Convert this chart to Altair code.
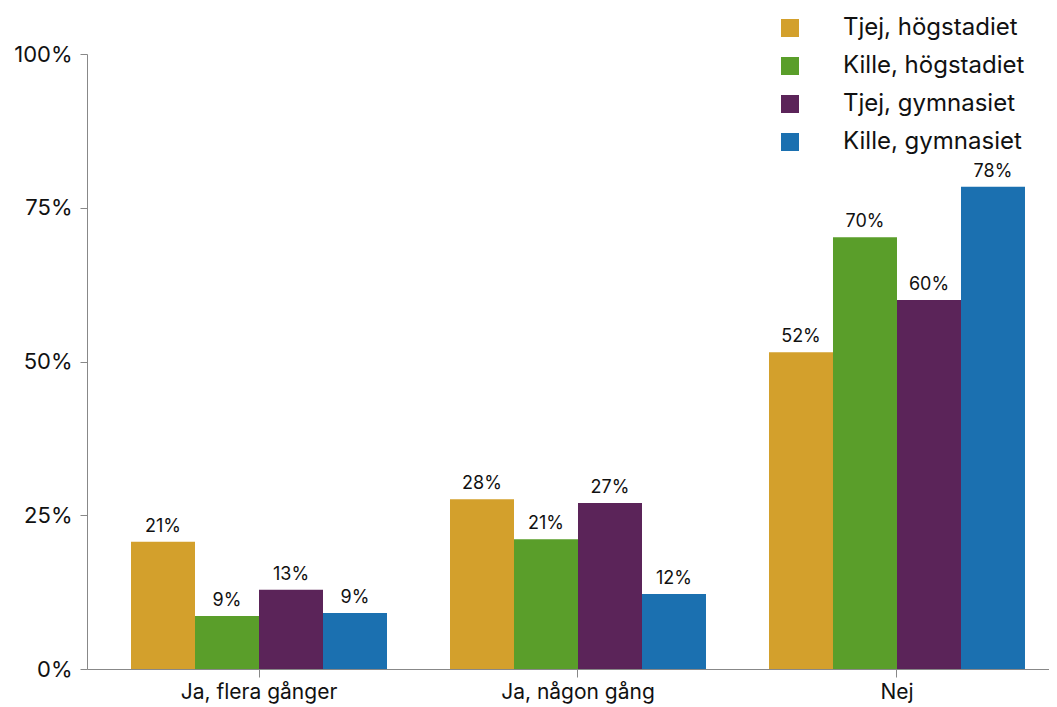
import altair as alt
import pandas as pd

categories = ["Ja, flera gånger", "Ja, någon gång", "Nej"]
series = ["Tjej, högstadiet", "Kille, högstadiet", "Tjej, gymnasiet", "Kille, gymnasiet"]
colors = ["#D3A02C", "#5A9E2A", "#5B2459", "#1B70B0"]
# values per series, in category order
tjej_hog = [0.207, 0.276, 0.515]
kille_hog = [0.086, 0.211, 0.702]
tjej_gym = [0.129, 0.270, 0.600]
kille_gym = [0.091, 0.122, 0.784]

rows = []
for s, vals in zip(series, [tjej_hog, kille_hog, tjej_gym, kille_gym]):
    for c, v in zip(categories, vals):
        rows.append({"kategori": c, "grupp": s, "andel": v})
df = pd.DataFrame(rows)

FONT = "Inter"

base = alt.Chart(df).encode(
    x=alt.X("kategori:N", sort=categories, title=None,
            scale=alt.Scale(paddingInner=0.1975, paddingOuter=0.1066, align=0.647),
            axis=alt.Axis(labelAngle=0, labelFontSize=21, labelFont=FONT, labelColor="#111",
                          domainColor="#888", tickColor="#888", tickSize=8,
                          labelPadding=4, grid=False)),
    xOffset=alt.XOffset("grupp:N", sort=series),
    y=alt.Y("andel:Q", title=None,
            scale=alt.Scale(domain=[0, 1], nice=False),
            axis=alt.Axis(format=".0%", values=[0, 0.25, 0.5, 0.75, 1],
                          labelFontSize=22, labelFont=FONT, labelColor="#111",
                          domainColor="#888", tickColor="#888", tickSize=7,
                          labelPadding=8, grid=False)),
)

bars = base.mark_bar().encode(
    color=alt.Color("grupp:N", sort=series,
                    scale=alt.Scale(domain=series, range=colors),
                    legend=alt.Legend(title=None, orient="none", legendX=691, legendY=-38,
                                      symbolType="square", symbolSize=324,
                                      symbolStrokeWidth=0, symbolOpacity=1,
                                      labelFontSize=24, labelFont=FONT, labelColor="#111",
                                      labelOffset=41, rowPadding=14, padding=0,
                                      labelLimit=400))
)

labels = base.mark_text(dy=-10, baseline="alphabetic", fontSize=18, font=FONT,
                        color="#111").encode(
    text=alt.Text("andel:Q", format=".0%")
)

chart = (bars + labels).properties(
    width=962, height=615,
    autosize=alt.AutoSizeParams(type="none"),
    padding={"left": 79, "top": 46, "right": 0, "bottom": 36},
).configure_view(stroke=None)

chart.save("out.html", embed_options={"renderer": "svg", "actions": False})
